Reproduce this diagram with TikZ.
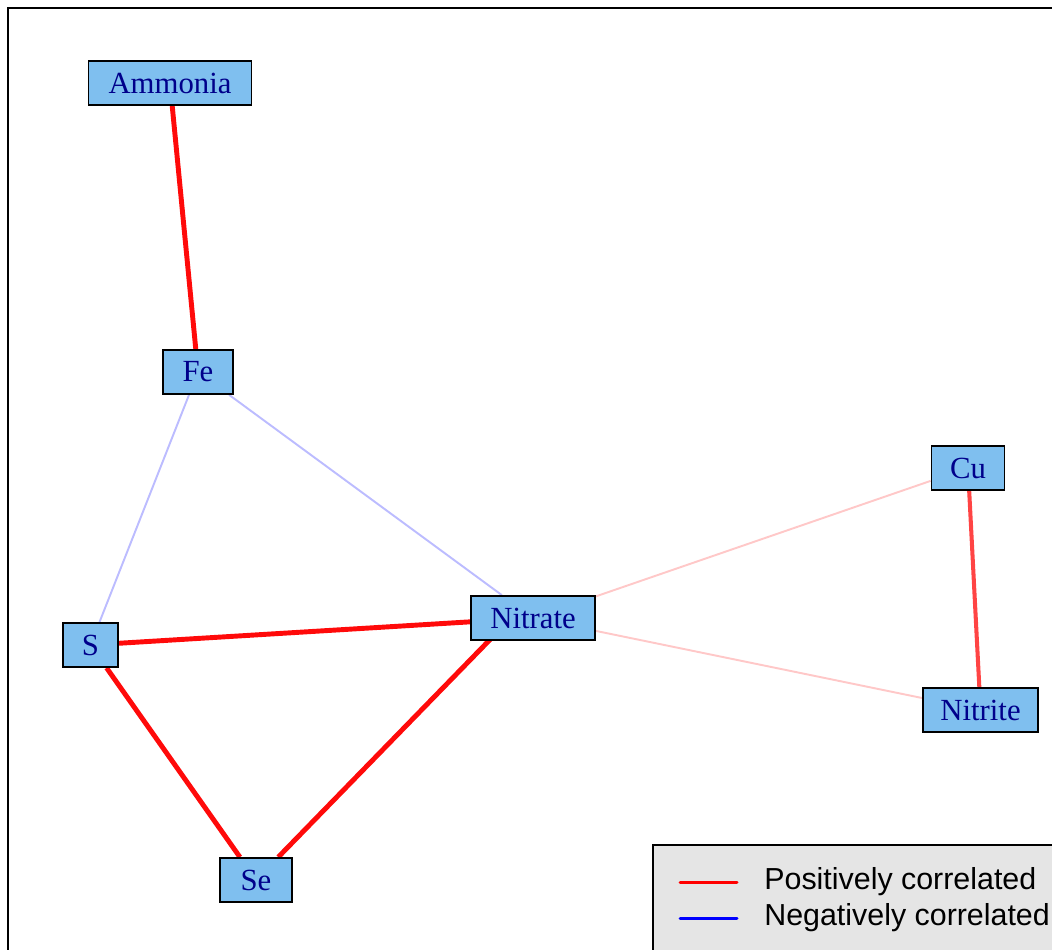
\documentclass[tikz,border=0pt]{standalone}
\usepackage{fontspec}
\setmainfont{Liberation Serif}
\newfontfamily\legendfont{Liberation Sans}
\usepackage{tikz}
\usetikzlibrary{positioning, backgrounds}
\definecolor{nodefill}{RGB}{127,191,239}
\definecolor{nodetext}{RGB}{0,0,139}
\definecolor{posstrong}{RGB}{255,10,10}
\definecolor{posmid}{RGB}{255,68,68}
\definecolor{poslight}{RGB}{255,200,200}
\definecolor{neglight}{RGB}{188,188,255}
\definecolor{legendgray}{RGB}{229,229,229}
\tikzset{
  var/.style={
    rectangle, draw=black, line width=1pt, fill=nodefill, text=nodetext,
    minimum height=0.88cm, inner sep=0pt, font=\fontsize{17.5}{20}\selectfont
  },
  posstrongedge/.style={line width=2.8pt, color=posstrong},
  posmidedge/.style={line width=2.3pt, color=posmid},
  poslightedge/.style={line width=1.1pt, color=poslight},
  neglightedge/.style={line width=1.1pt, color=neglight},
  legendline/.style={line width=1.7pt, line cap=round},
  legendtext/.style={inner sep=0pt, font=\legendfont\fontsize{17.3}{20}\selectfont}
}
\begin{document}
\begin{tikzpicture}[x=0.02cm, y=-0.02cm]
  \clip (0,0) rectangle (1052,950);

  % variables
  \node[var, minimum width=3.26cm] (ammonia) at (170,83) {Ammonia};
  \node[var, minimum width=1.4cm]  (fe)      at (198,372) {Fe};
  \node[var, minimum width=1.46cm] (cu)      at (968,468) {Cu};
  \node[var, minimum width=2.48cm] (nitrate) at (533,618) {Nitrate};
  \node[var, minimum width=1.1cm]  (s)       at (90.5,645) {S};
  \node[var, minimum width=2.3cm]  (nitrite) at (980.5,710) {Nitrite};
  \node[var, minimum width=1.44cm] (se)      at (256,880) {Se};

  \begin{scope}[on background layer]
    \draw[line width=1pt] (8,8) rectangle (1080,980);
    % correlations
    \draw[posstrongedge] (ammonia) -- (fe);
    \draw[neglightedge] (fe) -- (s);
    \draw[neglightedge] (fe) -- (nitrate);
    \draw[poslightedge] (cu) -- (nitrate);
    \draw[poslightedge] (nitrite) -- (nitrate);
    \draw[posmidedge] (cu) -- (nitrite);
    \draw[posstrongedge] (s) -- (nitrate);
    \draw[posstrongedge] (s) -- (se);
    \draw[posstrongedge] (se) -- ([xshift=-0.44cm]nitrate.center);
  \end{scope}

  % legend
  \draw[line width=1pt, fill=legendgray] (653,845) rectangle (1080,980);
  \coordinate (posA) at (680,882);
  \coordinate (posB) at (737,882);
  \coordinate (negA) at (680,918);
  \coordinate (negB) at (737,918);
  \draw[legendline, red] (posA) -- (posB);
  \draw[legendline, blue] (negA) -- (negB);
  \node[legendtext, right=0.54cm of posB] (postext) {Positively correlated};
  \node[legendtext, right=0.54cm of negB] (negtext) {Negatively correlated};
\end{tikzpicture}
\end{document}
